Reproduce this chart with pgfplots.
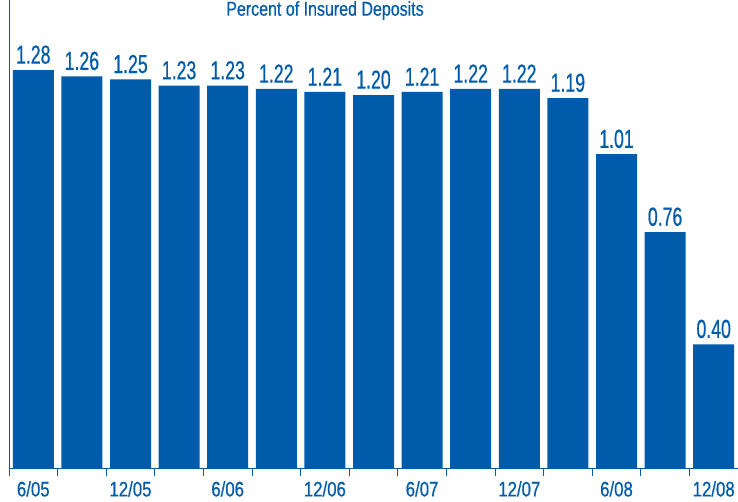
\documentclass[border=0pt]{standalone}
\usepackage{fontspec}
\setmainfont{Liberation Sans}[FakeStretch=0.8, FakeBold=0.4]
\newfontfamily\valfont{Liberation Sans}[FakeStretch=0.68, FakeBold=0.6]
\newfontfamily\tickfont{Liberation Sans}[FakeStretch=0.8, FakeBold=0.6]
\usepackage{pgfplots}
\pgfplotsset{compat=1.18}
\definecolor{fdicblue}{RGB}{0,91,170}
\begin{document}
\begin{tikzpicture}
\begin{axis}[
  scale only axis,
  width=729pt, height=469pt,
  xmin=-0.5, xmax=14.5,
  ymin=0, ymax=1.505,
  axis x line*=bottom, axis y line*=left,
  axis line style={fdicblue, line width=1pt, -},
  ytick=\empty,
  xtick={0,2,...,14},
  xticklabels={6/05,12/05,6/06,12/06,6/07,12/07,6/08,12/08},
  major tick length=0pt,
  minor xtick={-0.5,0.5,...,14.5},
  minor tick length=7pt,
  tick align=outside,
  minor tick style={fdicblue, line width=1pt},
  /pgf/number format/assume math mode=true,
  xticklabel style={font=\tickfont\fontsize{21}{22}\selectfont, text=fdicblue, inner sep=0pt, anchor=north, yshift=-12pt},
  clip=false,
  nodes near coords={\pgfmathprintnumber[fixed,precision=2,zerofill]{\pgfplotspointmeta}},
  every node near coord/.append style={font=\valfont\fontsize{26}{28}\selectfont, text=fdicblue, inner sep=0pt, anchor=south, yshift=6pt},
]
\addplot[ybar, bar width=41pt, fill=fdicblue, draw=none] coordinates {
(0,1.28) (1,1.26) (2,1.25) (3,1.23) (4,1.23) (5,1.22) (6,1.21) (7,1.20)
(8,1.21) (9,1.22) (10,1.22) (11,1.19) (12,1.01) (13,0.76) (14,0.40)};
\end{axis}
\node[anchor=north, text=fdicblue, font=\fontsize{20}{21}\selectfont, inner sep=0pt] at (316pt,468pt) {Percent of Insured Deposits};
\pgfresetboundingbox
\path[use as bounding box] (-9pt,-33pt) rectangle (729pt,469pt);
\end{tikzpicture}
\end{document}
